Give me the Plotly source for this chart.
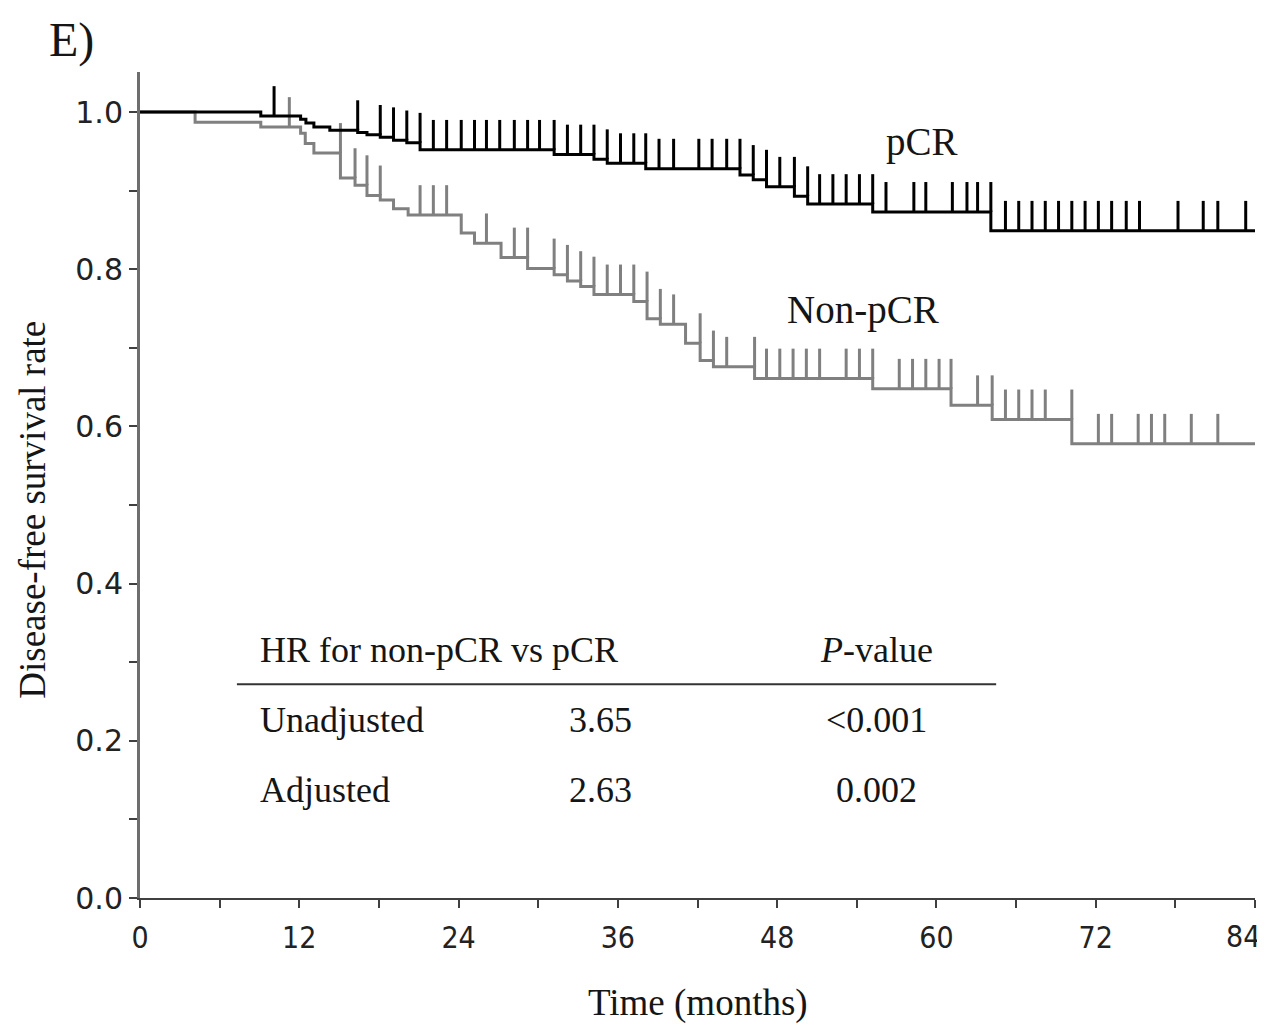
import plotly.graph_objects as go

# ---------------- data ----------------
# pCR group (black): event (drop) times and survival after each drop
pcr_event_times = [9.1, 12.1, 12.5, 13.1, 14.3, 16.4, 17.1, 18.1, 19.1, 20.1, 21.1,
                   31.2, 34.2, 35.2, 38.1, 45.2, 46.2, 47.2, 49.3, 50.3, 55.2, 64.1]
pcr_surv = [0.995, 0.991, 0.986, 0.981, 0.977, 0.974, 0.971, 0.968, 0.964, 0.961, 0.952,
            0.946, 0.940, 0.935, 0.928, 0.920, 0.914, 0.905, 0.893, 0.883, 0.873, 0.849]
pcr_censor_times = [10.1, 16.4, 18.1, 19.1, 20.1, 21.1, 22.1, 23.1, 24.2, 25.2, 26.1, 27.1,
                    28.2, 29.2, 30.1, 31.2, 32.2, 33.2, 34.2, 35.2, 36.2, 37.2, 38.1, 39.1,
                    40.2, 42.1, 43.1, 44.2, 45.2, 46.2, 47.2, 48.2, 49.3, 50.3, 51.2, 52.2,
                    53.2, 54.2, 55.2, 56.2, 58.3, 59.2, 61.2, 62.3, 63.1, 64.1, 65.2, 66.2,
                    67.2, 68.2, 69.2, 70.2, 71.2, 72.2, 73.2, 74.3, 75.3, 78.2, 80.1, 81.2,
                    83.3]

# Non-pCR group (grey)
npcr_event_times = [4.15, 9.1, 12.1, 12.45, 13.1, 15.1, 16.2, 17.1, 18.1, 19.1, 20.2,
                    24.2, 25.2, 27.2, 29.2, 31.2, 32.2, 33.2, 34.2, 37.2, 38.2, 39.2,
                    41.1, 42.2, 43.2, 46.3, 55.2, 61.1, 64.2, 70.2]
npcr_surv = [0.987, 0.981, 0.973, 0.960, 0.948, 0.916, 0.907, 0.894, 0.888, 0.877, 0.869,
             0.846, 0.833, 0.815, 0.801, 0.793, 0.785, 0.778, 0.768, 0.759, 0.737, 0.730,
             0.706, 0.684, 0.676, 0.661, 0.648, 0.627, 0.609, 0.578]
npcr_censor_times = [11.25, 15.1, 16.2, 17.1, 18.1, 21.1, 22.1, 23.1, 26.1, 28.2, 29.2,
                     31.2, 32.2, 33.2, 34.2, 35.2, 36.2, 37.2, 38.2, 39.2, 40.2, 42.2,
                     43.2, 44.2, 46.3, 47.2, 48.2, 49.2, 50.2, 51.2, 53.2, 54.2, 55.2,
                     57.2, 58.2, 59.2, 60.2, 61.1, 63.1, 64.2, 65.2, 66.2, 67.2, 68.2,
                     70.2, 72.2, 73.2, 75.2, 76.2, 77.2, 79.2, 81.2]

follow_up_end = 84

x_tick_vals = [0, 12, 24, 36, 48, 60, 72, 84]
x_tick_text = ["0", "12", "24", "36", "48", "60", "72", "84"]
y_tick_vals = [0.0, 0.2, 0.4, 0.6, 0.8, 1.0]
y_tick_text = ["0.0", "0.2", "0.4", "0.6", "0.8", "1.0"]

group_labels = ["pCR", "Non-pCR"]
table_header = ["HR for non-pCR vs pCR", "<i>P</i>-value"]
table_rows = [["Unadjusted", "3.65", "<0.001"],
              ["Adjusted", "2.63", "0.002"]]

# ---------------- styling ----------------
SERIF = "Liberation Serif, Times New Roman, serif"
BLACK = "#000000"
GREY = "#808080"
TXT = "#151515"
TICK_H = 0.038  # censor mark height in survival units
XTICK_FONT = dict(family="DejaVu Sans Condensed, DejaVu Sans", size=30, color="#222")


def surv_before(t, ev_times, surv):
    s = 1.0
    for et, sv in zip(ev_times, surv):
        if et < t:
            s = sv
    return s


def step_xy(ev_times, surv, end):
    xs = [0] + list(ev_times) + [end]
    ys = [1.0] + list(surv) + [surv[-1]]
    return xs, ys


def censor_xy(c_times, ev_times, surv):
    xs, ys = [], []
    for c in c_times:
        s = surv_before(c, ev_times, surv)
        xs += [c, c, None]
        ys += [s, s + TICK_H, None]
    return xs, ys


fig = go.Figure()

for ev, sv, cens, col in [(npcr_event_times, npcr_surv, npcr_censor_times, GREY),
                          (pcr_event_times, pcr_surv, pcr_censor_times, BLACK)]:
    sx, sy = step_xy(ev, sv, follow_up_end)
    fig.add_trace(go.Scatter(x=sx, y=sy, mode="lines", line=dict(color=col, width=3, shape="hv"),
                             hoverinfo="skip", showlegend=False))
    cx, cy = censor_xy(cens, ev, sv)
    fig.add_trace(go.Scatter(x=cx, y=cy, mode="lines", line=dict(color=col, width=3),
                             hoverinfo="skip", showlegend=False))

annotations = []
# group labels
annotations.append(dict(x=58.9, y=0.962, xref="x", yref="y", text=group_labels[0], showarrow=False,
                        font=dict(family=SERIF, size=39, color=TXT), xanchor="center", yanchor="middle"))
annotations.append(dict(x=54.5, y=0.748, xref="x", yref="y", text=group_labels[1], showarrow=False,
                        font=dict(family=SERIF, size=39, color=TXT), xanchor="center", yanchor="middle"))

# table
tfont = dict(family=SERIF, size=36, color=TXT)
annotations.append(dict(x=8.9, y=0.3155, xref="x", yref="y", text=table_header[0], showarrow=False,
                        font=tfont, xanchor="left", yanchor="middle"))
annotations.append(dict(x=55.5, y=0.3155, xref="x", yref="y", text=table_header[1], showarrow=False,
                        font=tfont, xanchor="center", yanchor="middle"))
row_y = [0.2265, 0.1374]
for r, yy in zip(table_rows, row_y):
    annotations.append(dict(x=8.9, y=yy, xref="x", yref="y", text=r[0], showarrow=False,
                            font=tfont, xanchor="left", yanchor="middle"))
    annotations.append(dict(x=34.7, y=yy, xref="x", yref="y", text=r[1], showarrow=False,
                            font=tfont, xanchor="center", yanchor="middle"))
    annotations.append(dict(x=55.5, y=yy, xref="x", yref="y", text=r[2].replace("<", "&lt;"),
                            showarrow=False, font=tfont, xanchor="center", yanchor="middle"))

# last x tick label drawn nudged left so it stays inside the figure, as in the reference
x_tick_labels = x_tick_text[:-1] + [""]
annotations.append(dict(x=x_tick_vals[-1], y=-0.0472, xref="x", yref="paper", text=x_tick_text[-1],
                        showarrow=False, xshift=-12, font=XTICK_FONT,
                        xanchor="center", yanchor="middle"))

# panel label and axis titles
annotations.append(dict(x=-0.061, y=1.0387, xref="paper", yref="paper", text="E)", showarrow=False,
                        font=dict(family=SERIF, size=48, color=TXT), xanchor="center", yanchor="middle"))
annotations.append(dict(x=0.5, y=-0.127, xref="paper", yref="paper", text="Time (months)", showarrow=False,
                        font=dict(family=SERIF, size=37, color=TXT), xanchor="center", yanchor="middle"))
annotations.append(dict(x=-0.096, y=0.470, xref="paper", yref="paper", text="Disease-free survival rate",
                        showarrow=False, textangle=-90,
                        font=dict(family=SERIF, size=37, color=TXT), xanchor="center", yanchor="middle"))

fig.update_layout(
    width=1257, height=1020,
    margin=dict(l=132, r=10, t=64, b=130, autoexpand=False),
    paper_bgcolor="white", plot_bgcolor="white",
    annotations=annotations,
    shapes=[dict(type="line", xref="x", yref="y", x0=7.3, x1=64.5, y0=0.272, y1=0.272,
                 line=dict(color="#333", width=2))],
    xaxis=dict(range=[0, 84], tickmode="array", tickvals=x_tick_vals, ticktext=x_tick_labels,
               automargin=False,
               showgrid=False, zeroline=False, showline=True, linecolor="#404040", linewidth=2,
               ticks="outside", ticklen=8, tickwidth=2, tickcolor="#404040",
               ticklabelstandoff=4,
               tickfont=XTICK_FONT,
               minor=dict(tick0=0, dtick=6, ticks="outside", ticklen=8, tickwidth=2, tickcolor="#404040")),
    yaxis=dict(range=[0, 1.051], tickmode="array", tickvals=y_tick_vals, ticktext=y_tick_text,
               automargin=False,
               showgrid=False, zeroline=False, showline=True, linecolor="#6e6e6e", linewidth=3,
               ticks="outside", ticklen=8, tickwidth=2, tickcolor="#404040",
               tickfont=dict(family="DejaVu Sans", size=30, color="#222"),
               minor=dict(tick0=0, dtick=0.1, ticks="outside", ticklen=8, tickwidth=2, tickcolor="#404040")),
)

fig.write_html("out.html")
